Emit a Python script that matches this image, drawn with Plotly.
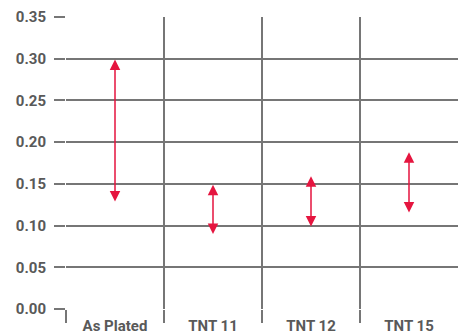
import plotly.graph_objects as go

categories = ["As Plated", "TNT 11", "TNT 12", "TNT 15"]
low_values = [0.127, 0.088, 0.097, 0.114]
high_values = [0.299, 0.149, 0.159, 0.188]
y_ticks = [0.00, 0.05, 0.10, 0.15, 0.20, 0.25, 0.30, 0.35]

arrow_color = "#e5153f"
grid_color = "#767676"
text_color = "#595959"

fig = go.Figure()
x_pos = list(range(len(categories)))
# invisible trace to establish axes
fig.add_trace(go.Scatter(x=x_pos, y=high_values, mode="markers",
                         marker=dict(opacity=0), hoverinfo="skip", showlegend=False))

for i, (lo, hi) in enumerate(zip(low_values, high_values)):
    fig.add_annotation(x=i, y=hi, ax=i, ay=lo, xref="x", yref="y", axref="x", ayref="y",
                       showarrow=True, arrowhead=2, startarrowhead=2, arrowside="end+start",
                       arrowsize=1.4, startarrowsize=1.4, arrowwidth=1.5, arrowcolor=arrow_color, text="")

font = dict(family="Roboto", size=15, color=text_color, weight="bold")

fig.update_layout(
    width=458, height=335,
    margin=dict(l=66, r=0, t=17, b=26, autoexpand=False),
    paper_bgcolor="white", plot_bgcolor="white",
    showlegend=False,
    xaxis=dict(range=[-0.5, 3.5], tickmode="array", tickvals=x_pos, ticktext=categories,
               showgrid=False, zeroline=False, showline=False, automargin=False,
               ticks="outside", ticklen=3, tickcolor="rgba(0,0,0,0)", tickfont=font,
               minor=dict(tickmode="array", tickvals=[-0.5, 0.5, 1.5, 2.5], showgrid=True,
                          gridcolor=grid_color, gridwidth=1.6, ticks="outside", ticklen=13,
                          tickcolor=grid_color, tickwidth=1.6)),
    yaxis=dict(range=[0, 0.35], tickmode="array", tickvals=y_ticks,
               ticktext=[f"{v:.2f}" for v in y_ticks], automargin=False,
               showgrid=True, gridcolor=grid_color, gridwidth=1.6, zeroline=False, showline=False,
               ticks="outside", ticklen=11, tickcolor=grid_color, tickwidth=1.6, tickfont=font,
               ticklabelstandoff=5),
)

fig.write_html("out.html", config={"displayModeBar": False},
               post_script="document.body.style.margin='0';document.body.style.padding='0';")
